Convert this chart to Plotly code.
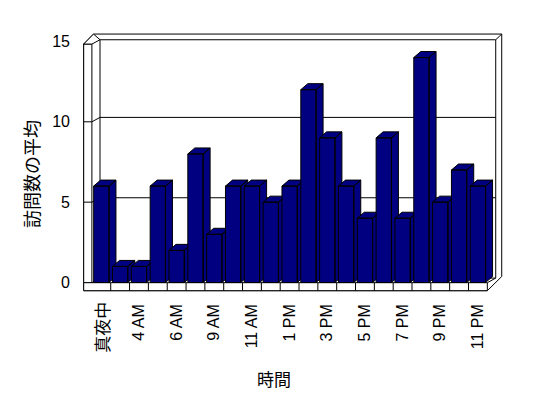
import plotly.graph_objects as go

# ---- data ----
hours = ["真夜中", "1 AM", "4 AM", "5 AM", "6 AM", "7 AM", "9 AM", "10 AM", "11 AM", "12 PM",
         "1 PM", "2 PM", "3 PM", "4 PM", "5 PM", "6 PM", "7 PM", "8 PM", "9 PM", "10 PM", "11 PM"]
avg_visits = [6, 1, 1, 6, 2, 8, 3, 6, 6, 5, 6, 12, 9, 6, 4, 9, 4, 14, 5, 7, 6]
y_tick_values = [0, 5, 10, 15]
grid_values = [5, 10]
x_title = "時間"
y_title = "訪問数の平均"

# ---- layout geometry ----
W, H = 548, 398
ML, MT, PW, PH = 83, 32, 420, 260
CAT_PX = 18.83
UNIT_PX = 16.07
ZERO_PX = 282.5
FIRST_EDGE_PX = 91.9
n = len(hours)
YMAX = y_tick_values[-1]

xr0 = -0.5 - (FIRST_EDGE_PX - ML) / CAT_PX
xr1 = xr0 + PW / CAT_PX
yr0 = -(MT + PH - ZERO_PX) / UNIT_PX
yr1 = (ZERO_PX - MT) / UNIT_PX


def ox(px):
    return px / CAT_PX


def oy(px):
    return px / UNIT_PX


FL, FR = -0.5, n - 0.5
X_OUT_L = FL - ox(8.2)
X_BACK_L = FL + ox(8.1)
X_OUT_TOPL = FL + ox(1.6)
X_BACK_R = FR + ox(8.4)
X_OUT_R = FR + ox(14.4)
Y_WALL_TOP_F = YMAX - oy(2.6)
Y_BACK_TOP = YMAX + oy(1.7)
Y_OUT_TOP = YMAX + oy(7.4)
Y_FLOOR_TOP = -oy(0.2)
Y_FLOOR_BOT = -oy(8.2)
Y_BACK_FLOOR = oy(4.4)
Y_OUT_R_BOT = oy(6.0)
BACK_DY = oy(4.4)


def path(pts, close=True):
    s = "M " + " L ".join(f"{x:.5f},{y:.5f}" for x, y in pts)
    return s + (" Z" if close else "")


shapes = []
LINE = dict(color="black", width=1)


def add(pts, close=True, fill="white"):
    shapes.append(dict(type="path", xref="x", yref="y", path=path(pts, close),
                       line=LINE, fillcolor=fill if close else None, layer="below"))


# outer silhouette
add([(X_OUT_L, Y_FLOOR_BOT), (X_OUT_L, Y_WALL_TOP_F), (X_OUT_TOPL, Y_OUT_TOP),
     (X_OUT_R, Y_OUT_TOP), (X_OUT_R, Y_OUT_R_BOT), (FR, Y_FLOOR_BOT)])
# back wall inner face
add([(X_BACK_L, Y_BACK_FLOOR), (X_BACK_L, Y_BACK_TOP), (X_BACK_R, Y_BACK_TOP), (X_BACK_R, Y_BACK_FLOOR)])
# left wall front face
add([(X_OUT_L, Y_FLOOR_TOP), (X_OUT_L, Y_WALL_TOP_F), (FL, Y_WALL_TOP_F), (FL, Y_FLOOR_TOP)])
# left wall top
add([(X_OUT_L, Y_WALL_TOP_F), (FL, Y_WALL_TOP_F), (X_BACK_L, Y_BACK_TOP), (X_OUT_TOPL, Y_OUT_TOP)])
# top-right corner
add([(X_BACK_R, Y_BACK_TOP), (X_OUT_R, Y_OUT_TOP)], close=False)
# floor right diagonal
add([(FR, Y_FLOOR_TOP), (X_BACK_R, Y_BACK_FLOOR)], close=False)
# left floor diagonal
add([(FL, Y_FLOOR_TOP), (X_BACK_L, Y_BACK_FLOOR)], close=False)
# gridlines
for g in grid_values:
    add([(X_OUT_L, g), (FL, g), (X_BACK_L, g + BACK_DY), (X_BACK_R, g + BACK_DY)], close=False)
# floor front strip
add([(X_OUT_L, Y_FLOOR_BOT), (X_OUT_L, Y_FLOOR_TOP), (FR, Y_FLOOR_TOP), (FR, Y_FLOOR_BOT)])
for i in range(n - 1):
    add([(i + 0.5, Y_FLOOR_TOP), (i + 0.5, Y_FLOOR_BOT)], close=False)

# ---- bars (3D look) ----
HALF = 0.406
DX, DY = ox(7.0), oy(6.0)
fig = go.Figure()
for i, v in enumerate(avg_visits):
    a, b = i - HALF, i + HALF
    xs = [a, b, b, a, a, None,
          b, b + DX, b + DX, b, b, None,
          a, b, b + DX, a + DX, a]
    ys = [0, 0, v, v, 0, None,
          0, DY, v + DY, v, 0, None,
          v, v, v + DY, v + DY, v]
    fig.add_trace(go.Scatter(x=xs, y=ys, mode="lines", fill="toself",
                             fillcolor="#000080", line=dict(color="black", width=1),
                             hoverinfo="skip", showlegend=False))

tickvals = list(range(0, n, 2))
# the CJK first label is drawn as a rotated annotation at the same category
ticktext = ["" if i == 0 else hours[i] for i in tickvals]

FONT = "Liberation Sans, Arial, Noto Sans CJK JP, sans-serif"
CJK = "Noto Sans CJK JP, sans-serif"

fig.update_layout(
    width=W, height=H,
    margin=dict(l=ML, r=W - ML - PW, t=MT, b=H - MT - PH, pad=0, autoexpand=False),
    paper_bgcolor="white", plot_bgcolor="white",
    shapes=shapes,
    xaxis=dict(range=[xr0, xr1], tickvals=tickvals, ticktext=ticktext, tickangle=-90,
               showgrid=False, zeroline=False, showline=False, ticks="", automargin=False,
               tickfont=dict(family=FONT, size=16, color="black"), ticklabelstandoff=8),
    yaxis=dict(range=[yr0, yr1], tickvals=y_tick_values, showgrid=False, zeroline=False,
               showline=False, ticks="", automargin=False,
               tickfont=dict(family=FONT, size=16, color="black"),
               ticklabelstandoff=12),
    annotations=[
        dict(text=hours[0], xref="x", yref="paper", x=tickvals[0], y=(MT + PH - 300) / PH,
             showarrow=False, textangle=-90, font=dict(family=CJK, size=17, color="black"),
             xanchor="center", yanchor="top"),
        dict(text=x_title, xref="paper", yref="paper", x=(274 - ML) / PW, y=(MT + PH - 378) / PH,
             showarrow=False, font=dict(family=CJK, size=17, color="black"),
             xanchor="center", yanchor="middle"),
        dict(text=y_title, xref="paper", yref="paper", x=(31 - ML) / PW, y=(MT + PH - 174) / PH,
             showarrow=False, textangle=-90, font=dict(family=CJK, size=18, color="black"),
             xanchor="center", yanchor="middle"),
    ],
)

fig.write_html("out.html", config={"displayModeBar": False},
               post_script="document.body.style.margin='0';")
